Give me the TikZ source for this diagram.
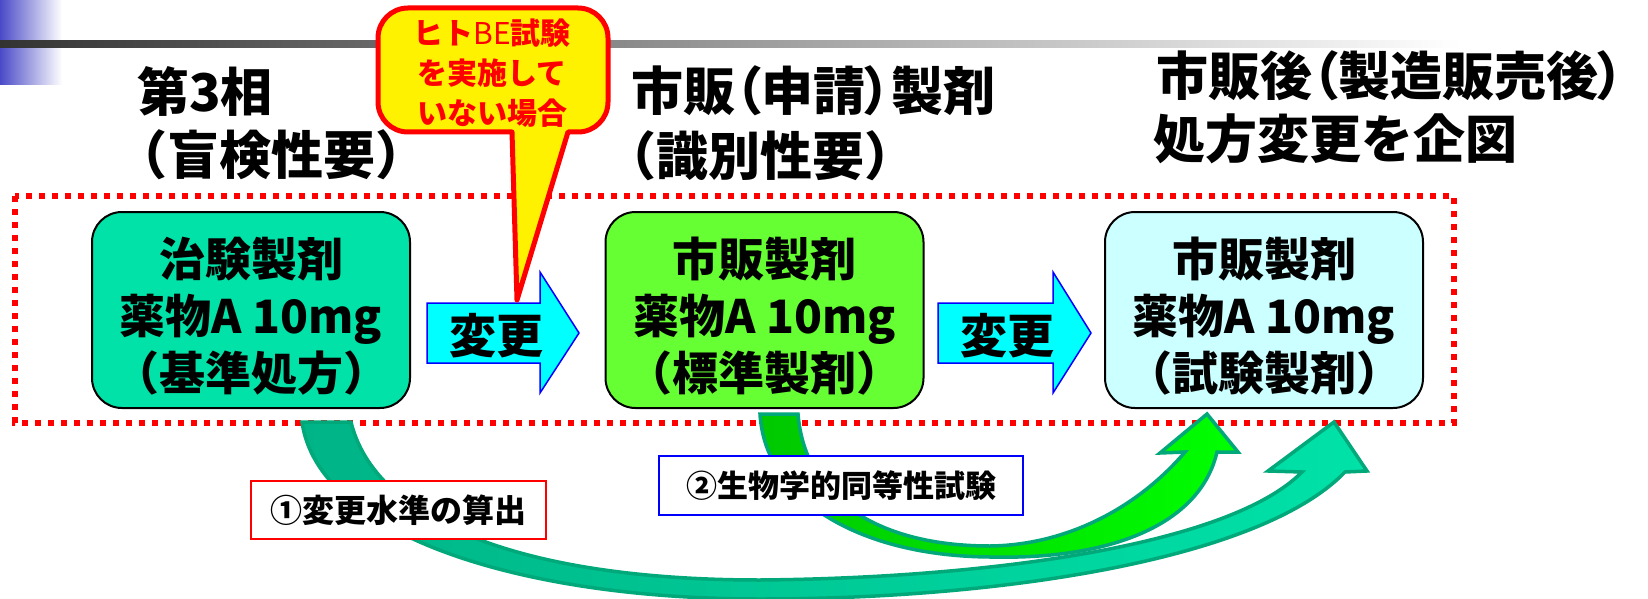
\documentclass[tikz,border=0pt]{standalone}
\usepackage{fontspec}
\setmainfont{Noto Sans CJK JP}
\newfontfamily\pj{Noto Sans CJK JP}[RawFeature=+palt]
\definecolor{boxA}{HTML}{00E2A8}
\definecolor{boxB}{HTML}{66FF33}
\definecolor{boxC}{HTML}{CCFFFF}
\definecolor{arrcyan}{HTML}{00FFFF}
\definecolor{tealdark}{HTML}{00A87A}
\definecolor{tealmid}{HTML}{00B487}
\definecolor{teallight}{HTML}{00E2A8}
\definecolor{grnd}{HTML}{00C800}
\definecolor{grnl}{HTML}{00FF00}
\definecolor{barblue}{HTML}{4A4AC8}
\begin{document}
\begin{tikzpicture}[x=1pt,y=-1pt,
  titletext/.style={font=\fontsize{52}{60}\selectfont\bfseries, inner sep=0pt},
  titlep/.style={font=\pj\fontsize{52}{60}\selectfont\bfseries, inner sep=0pt},
  drugbox/.style={draw=black, line width=2pt, rounded corners=30pt, minimum width=318pt, minimum height=196pt, inner sep=0pt},
  boxtext/.style={font=\fontsize{46}{57}\selectfont\bfseries, align=center, inner sep=0pt},
  changearrow/.style={draw=blue, fill=arrcyan, line width=1.5pt, line join=miter},
  changetext/.style={font=\fontsize{47}{50}\selectfont\bfseries, inner sep=0pt},
  calloutshape/.style={draw=red, fill=yellow, line width=5pt, line join=round},
  callouttext/.style={font=\fontsize{30}{40}\selectfont\bfseries, text=red, align=center, inner sep=0pt},
  labelbox/.style={fill=white, line width=1.5pt, inner sep=0pt},
  bigarrow/.style={draw=tealdark, line width=3.5pt, line join=miter}
]
\useasboundingbox (0,0) rectangle (1648,599);
\fill[white] (0,0) rectangle (1648,599);
% header decoration
\shade[left color=barblue, right color=white] (0,0) rectangle (62,85);
\shade[left color=black!80, right color=white] (0,41) rectangle (1460,48);
% titles
\node[titletext] (h1a) at (205,91) {第3相};
\node[titletext] (h1b) at (271,155) {（盲検性要）};
\node[titlep] (h2a) at (813,91) {市販（申請）製剤};
\node[titletext] (h2b) at (760,156) {（識別性要）};
\node[titlep] (h3a) at (1390,76) {市販後（製造販売後）};
\node[titletext] (h3b) at (1335,139) {処方変更を企図};
% dotted frame
\draw[red, line width=6pt, dash pattern=on 6pt off 7pt] (15,196) rectangle (1454,423);
% boxes
\node[drugbox, fill=boxA] (b1) at (251,310) {};
\node[drugbox, fill=boxB] (b2) at (764.5,310) {};
\node[drugbox, fill=boxC] (b3) at (1264,310) {};
\node[boxtext] (t1) at (251,316) {治験製剤\\薬物A 10mg\\（基準処方）};
\node[boxtext] (t2) at (764.5,316) {市販製剤\\薬物A 10mg\\（標準製剤）};
\node[boxtext] (t3) at (1264,316) {市販製剤\\薬物A 10mg\\（試験製剤）};
% change arrows
\draw[changearrow] (427,303) -- (540,303) -- (540,272) -- (579,333) -- (540,393) -- (540,363) -- (427,363) -- cycle;
\draw[changearrow] (938,303) -- (1053,303) -- (1053,272) -- (1091,333) -- (1053,393) -- (1053,363) -- (938,363) -- cycle;
\node[changetext] (c1) at (496,336) {変更};
\node[changetext] (c2) at (1007,336) {変更};
% callout
\draw[calloutshape] (378,70) -- (378,38) .. controls (378,21.4) and (391.4,8) .. (408,8) -- (578,8)
  .. controls (594.6,8) and (608,21.4) .. (608,38) -- (608,102)
  .. controls (608,118.6) and (594.6,132) .. (578,132) -- (568,132) -- (517,300) -- (512,132) -- (408,132)
  .. controls (391.4,132) and (378,118.6) .. (378,102) -- cycle;
\node[callouttext] (co) at (492,73) {ヒト{\mdseries BE}試験\\を実施して\\いない場合};
% big curved arrow A (box1 -> box3)
\shadedraw[bigarrow, left color=tealmid, right color=teallight]
  (302,422) .. controls (318,535) and (520,599) .. (760,599)
  .. controls (1000,599) and (1260,560) .. (1345,472)
  -- (1367,471) -- (1334,422) -- (1268,471) -- (1302,472)
  .. controls (1230,545) and (990,578) .. (760,580)
  .. controls (520,580) and (375,520) .. (351,422) -- cycle;
% big curved arrow B (box2 -> box3)
\shadedraw[bigarrow, left color=grnd, right color=grnl]
  (760,414) .. controls (765,500) and (860,556) .. (990,557)
  .. controls (1110,560) and (1200,525) .. (1217,452)
  -- (1238,452) -- (1207,414) -- (1160,453) -- (1185,452)
  .. controls (1140,505) and (1070,545) .. (990,546)
  .. controls (880,546) and (805,500) .. (798,414) -- cycle;
% labels
\node[labelbox, draw=red, minimum width=295pt, minimum height=58pt, font=\fontsize{32}{38}\selectfont\bfseries] (l1) at (398.5,510) {①変更水準の算出};
\node[labelbox, draw=blue, minimum width=364pt, minimum height=59pt, font=\fontsize{31}{38}\selectfont\bfseries] (l2) at (841,485.5) {②生物学的同等性試験};
\end{tikzpicture}
\end{document}
